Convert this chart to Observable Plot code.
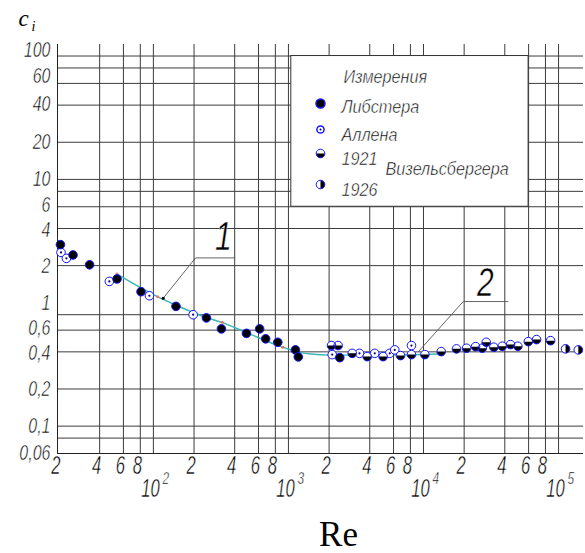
<!DOCTYPE html>
<html><head><meta charset="utf-8">
<script src="https://cdn.jsdelivr.net/npm/d3@7"></script>
<script src="https://cdn.jsdelivr.net/npm/@observablehq/plot@0.6"></script>
<style>html,body{margin:0;padding:0;background:#fff;} svg{display:block}</style>
</head><body><div id="chart"></div>
<script>
// ---- data (Re, c_i) ----
const libRe  = [20.5, 25.4, 33.7, 53.8, 81, 147, 247, 319, 489, 612, 678, 834, 1127, 1183, 2400];
const libC   = [2.96, 2.44, 2.03, 1.56, 1.23, 0.935, 0.754, 0.614, 0.565, 0.614, 0.510, 0.478, 0.415, 0.364, 0.359];

const allenRe = [20.7, 22.7, 47.2, 93.4, 197, 2109, 3357, 4355, 5623, 6124, 8147];
const allenC  = [2.56, 2.29, 1.49, 1.14, 0.80, 0.380, 0.389, 0.389, 0.389, 0.415, 0.450];

const w21Re = [2084, 2333, 2965, 3828, 5023, 6761, 8147, 10235, 13520, 17550, 20840, 24290, 27220, 29130, 33180, 38290, 44070, 49970, 59700, 68740, 87300];
const w21C  = [0.450, 0.450, 0.389, 0.366, 0.366, 0.373, 0.380, 0.380, 0.402, 0.423, 0.428, 0.441, 0.428, 0.478, 0.436, 0.444, 0.458, 0.444, 0.484, 0.503, 0.493];

const w26Re = [112700, 140000];
const w26C  = [0.423, 0.415];

const curveRe = [55.2, 107, 134, 247, 324, 489, 903, 1127, 1455, 2046, 4797, 13360];
const curveC  = [1.68, 1.12, 1.00, 0.758, 0.690, 0.573, 0.437, 0.406, 0.384, 0.376, 0.376, 0.384];

const curveMarkRe = [53.8, 107.6, 323, 908];
const curveMarkC  = [1.71, 1.12, 0.695, 0.436];

// annotation leaders (anchor on curve -> elbow -> end)
const lead1Re = [118.2, 205, 400.7];
const lead1C  = [1.088, 2.31, 2.31];
const lead2Re = [9233, 19680, 42100];
const lead2C  = [0.405, 1.023, 1.023];
const annLabels = ["1", "2"];
const annRe = [330, 28650];
const annC  = [3.38, 1.447];

// ticks and grid
const yTickValues = [100, 60, 40, 20, 10, 6, 4, 2, 1, 0.6, 0.4, 0.2, 0.1, 0.06];
const yTickLabels = ["100", "60", "40", "20", "10", "6", "4", "2", "1", "0,6", "0,4", "0,2", "0,1", "0,06"];
const xMinorValues = [20, 40, 60, 80, 200, 400, 600, 800, 2000, 4000, 6000, 8000, 20000, 40000, 60000, 80000];
const xMinorLabels = ["2", "4", "6", "8", "2", "4", "6", "8", "2", "4", "6", "8", "2", "4", "6", "8"];
const xDecadeValues = [100, 1000, 10000, 100000];
const xDecadeExp = ["2", "3", "4", "5"];
const yGrid = [100, 80, 60, 40, 20, 10, 8, 6, 4, 2, 0.8, 0.6, 0.4, 0.2, 0.1, 0.08];
const xGrid = [40, 60, 80, 100, 200, 400, 600, 800, 1000, 2000, 4000, 6000, 8000, 10000, 20000, 40000, 60000, 80000, 100000];

const legendTitle = "Измерения";
const legendNames = ["Либстера", "Аллена", "1921", "1926"];
const legendAuthor = "Визельсбергера";

// ---- build ----
const zip = (xs, ys) => xs.map((x, i) => ({x, y: ys[i]}));
const lib = zip(libRe, libC), allen = zip(allenRe, allenC), w21 = zip(w21Re, w21C), w26 = zip(w26Re, w26C);
const curve = zip(curveRe, curveC), curveMarks = zip(curveMarkRe, curveMarkC);
const lead1 = zip(lead1Re, lead1C), lead2 = zip(lead2Re, lead2C);
const ann = annLabels.map((t, i) => ({t, x: annRe[i], y: annC[i]}));
const yTicks = yTickValues.map((v, i) => ({v, label: yTickLabels[i]}));
const xMinor = xMinorValues.map((v, i) => ({v, label: xMinorLabels[i]}));
const xDecade = xDecadeValues.map((v, i) => ({v, exp: xDecadeExp[i]}));

const gost = "'Liberation Sans', Arial, sans-serif";
const serif = "'Liberation Serif', 'Times New Roman', serif";
const BLUE = "#1414ff", GRID = "#3c3c3c", TEAL = "#38b6b6";
const R = 4.3;

const halfBottom = {draw(ctx, size) { const r = Math.sqrt(size / Math.PI); ctx.moveTo(r, 0); ctx.arc(0, 0, r, 0, Math.PI); ctx.closePath(); }};
const halfRight = {draw(ctx, size) { const r = Math.sqrt(size / Math.PI); ctx.moveTo(0, -r); ctx.arc(0, 0, r, -Math.PI / 2, Math.PI / 2); ctx.closePath(); }};

function halfDots(data, sym, extra = {}) {
  return [
    Plot.dot(data, {x: "x", y: "y", r: R, fill: "white", ...extra}),
    Plot.dot(data, {x: "x", y: "y", r: R, symbol: sym, fill: "black", ...extra}),
    Plot.dot(data, {x: "x", y: "y", r: R, fill: "none", stroke: BLUE, strokeWidth: 1, ...extra})
  ];
}

// thin italic "drawing" lettering: white stroke over the fill thins the glyphs
const txt = {fontFamily: gost, fontStyle: "italic", fill: "black", stroke: "white", strokeWidth: 0.5, paintOrder: "normal"};
const legendRows = [57, 85, 109, 140];   // vertical offsets of legend rows inside the frame
// small vertical nudges of crowded y labels (as in the drawing)
const yLabelNudge = {"100": -6, "60": -7, "40": -1, "6": -2, "4": 2, "0,6": -2, "0,4": 1};
const nudgeGroups = d3.groups(yTicks, d => yLabelNudge[d.label] || 0);

const marks = [
  Plot.ruleY(yGrid, {stroke: GRID, strokeWidth: 1}),
  Plot.ruleX(xGrid, {stroke: GRID, strokeWidth: 1}),
  Plot.ruleX([19.5], {stroke: "#222", strokeWidth: 1}),
  Plot.ruleY([0.06], {stroke: "#222", strokeWidth: 1}),
  // legend box
  Plot.rect([0], {x1: 1050, x2: 60000, y1: 6, y2: 100, fill: "white", stroke: "#333", strokeWidth: 1}),
  // curve
  Plot.line(curve, {x: "x", y: "y", curve: "monotone-x", stroke: TEAL, strokeWidth: 1.4}),
  Plot.dot(curveMarks, {x: "x", y: "y", r: 1.5, fill: "#f07070"}),
  // leaders
  Plot.line(lead1, {x: "x", y: "y", stroke: "#555", strokeWidth: 0.9}),
  Plot.line(lead2, {x: "x", y: "y", stroke: "#555", strokeWidth: 0.9}),
  Plot.dot([lead1[0]], {x: "x", y: "y", r: 1.6, fill: "black"}),
  // measurements
  Plot.dot(allen, {x: "x", y: "y", r: R, fill: "white", stroke: BLUE, strokeWidth: 1}),
  Plot.dot(allen, {x: "x", y: "y", r: 1.1, fill: "#000080"}),
  ...halfDots(w21, halfBottom),
  ...halfDots(w26, halfRight),
  Plot.dot(lib, {x: "x", y: "y", r: R, fill: "black", stroke: BLUE, strokeWidth: 1}),
  // legend markers
  Plot.dot([0], {frameAnchor: "top-left", dx: 263, dy: 59, r: 4.5, fill: "black", stroke: BLUE}),
  Plot.dot([0], {frameAnchor: "top-left", dx: 263, dy: 85, r: 3.6, fill: "white", stroke: BLUE}),
  Plot.dot([0], {frameAnchor: "top-left", dx: 263, dy: 85, r: 1, fill: "#000080"}),
  ...halfDots([0], halfBottom, {frameAnchor: "top-left", dx: 263, dy: 109, x: null, y: null}),
  ...halfDots([0], halfRight, {frameAnchor: "top-left", dx: 263, dy: 140, x: null, y: null}),
  // legend text
  Plot.text([legendTitle], {...txt, frameAnchor: "top-left", dx: 286, dy: 26, textAnchor: "start", fontSize: 18}),
  ...legendNames.map((name, i) => Plot.text([name], {...txt, frameAnchor: "top-left", dx: 284, dy: legendRows[i] - 1, textAnchor: "start", fontSize: 18})),
  Plot.text([legendAuthor], {...txt, frameAnchor: "top-left", dx: 328, dy: 117.5, textAnchor: "start", fontSize: 18}),
  // annotation numbers
  Plot.text(ann, {...txt, x: "x", y: "y", text: "t", fontSize: 40}),
  // y tick labels
  ...nudgeGroups.map(([lift, rows]) => Plot.text(rows,
    {...txt, y: "v", text: "label", frameAnchor: "left", textAnchor: "end", dx: -7, dy: lift, fontSize: 20})),
  // x tick labels
  Plot.text(xMinor, {...txt, x: "v", text: "label", frameAnchor: "bottom", dy: 20, dx: -3, fontSize: 26}),
  Plot.text(xDecade, {...txt, x: "v", text: () => "10", frameAnchor: "bottom", dy: 43, dx: -3, fontSize: 26}),
  Plot.text(xDecade, {...txt, x: "v", text: "exp", frameAnchor: "bottom", dy: 30, dx: 9, textAnchor: "start", fontSize: 17}),
  // axis titles
  Plot.text(["Re"], {frameAnchor: "bottom", dx: 18, dy: 92, lineAnchor: "bottom", fontSize: 35, fontFamily: serif, fill: "black"}),
  Plot.text(["c"], {frameAnchor: "top-left", dx: -39, dy: -19, textAnchor: "start", lineAnchor: "bottom", fontSize: 23, fontStyle: "italic", fontFamily: serif, fill: "black"}),
  Plot.text(["i"], {frameAnchor: "top-left", dx: -26, dy: -14, textAnchor: "start", lineAnchor: "bottom", fontSize: 14, fontStyle: "italic", fontFamily: serif, fill: "black"})
];

const svg = Plot.plot({
  width: 585, height: 553,
  marginLeft: 57, marginRight: 2, marginTop: 44, marginBottom: 100,
  x: {type: "log", domain: [19.5, 153000], axis: null},
  y: {type: "log", domain: [0.06, 124], axis: null},
  style: {background: "white", overflow: "visible"},
  marks
});

// narrow drawing-font look: condense the italic labels horizontally (y labels slightly stretched)
const squeeze = {26: [0.64, 1], 20: [0.8, 1.08], 40: [0.75, 1], 17: [0.7, 1], 18: [0.9, 1]};
svg.querySelectorAll("g[font-size]").forEach(g => {
  const s = squeeze[parseFloat(g.getAttribute("font-size"))];
  if (!s || g.getAttribute("font-family") !== gost) return;
  g.querySelectorAll("text").forEach(t => t.setAttribute("transform", (t.getAttribute("transform") || "") + ` scale(${s[0]},${s[1]})`));
});
document.getElementById("chart").appendChild(svg);
</script>
</body></html>
